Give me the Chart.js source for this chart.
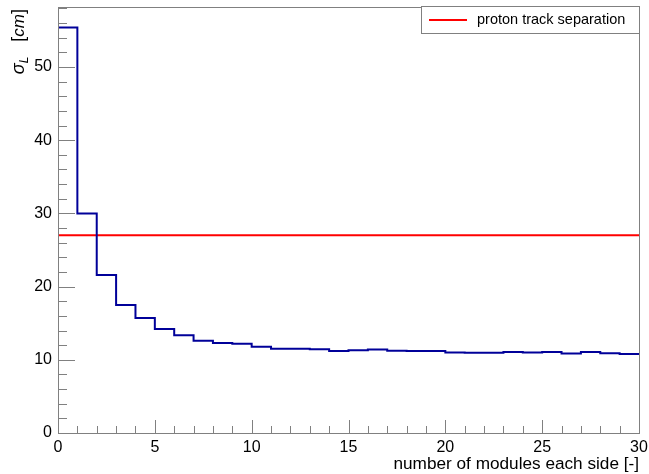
<!DOCTYPE html>
<html>
<head>
<meta charset="utf-8">
<script src="https://cdn.jsdelivr.net/npm/chart.js@4.4.1/dist/chart.umd.min.js"></script>
<style>
  html, body { margin: 0; padding: 0; background: #ffffff; }
  #wrap { width: 649px; height: 474px; position: relative; }
</style>
</head>
<body>
<div id="wrap"><canvas id="c" width="649" height="474"></canvas></div>
<script>
// ---- data ----
const binEdges = [0,1,2,3,4,5,6,7,8,9,10,11,12,13,14,15,16,17,18,19,20,21,22,23,24,25,26,27,28,29,30];
const sigmaL = [55.4, 30.0, 21.6, 17.5, 15.7, 14.2, 13.35, 12.6, 12.3, 12.2,
                11.8, 11.5, 11.5, 11.45, 11.2, 11.3, 11.4, 11.25, 11.2, 11.2,
                11.0, 10.95, 10.95, 11.05, 11.0, 11.05, 10.85, 11.05, 10.9, 10.8];
const separationLevel = 27.0;
const separationLabel = "proton track separation";
const xTicks = [0, 5, 10, 15, 20, 25, 30];
const yTicks = [0, 10, 20, 30, 40, 50];
const xTitle = "number of modules each side [-]";
const yMax = 58.2;

// histogram step points: each bin value held from its low edge to the next edge
const histPoints = binEdges.map((e, i) => ({ x: e, y: sigmaL[Math.min(i, sigmaL.length - 1)] }));
const sepPoints = [{ x: binEdges[0], y: separationLevel }, { x: binEdges[binEdges.length - 1], y: separationLevel }];

const FONT = "'Liberation Sans', Arial, Helvetica, sans-serif";

const rootStyle = {
  id: 'rootStyle',
  afterDatasetsDraw(chart) {
    const ctx = chart.ctx;
    const a = chart.chartArea;
    const xs = chart.scales.x, ys = chart.scales.y;
    ctx.save();
    // tick marks (inside the frame)
    ctx.strokeStyle = '#808080';
    ctx.lineWidth = 1;
    ctx.beginPath();
    for (let v = 0; v <= 30; v += 1) {
      const px = Math.round(xs.getPixelForValue(v)) + 0.5;
      const len = (v % 5 === 0) ? 13 : 7;
      ctx.moveTo(px, a.bottom);
      ctx.lineTo(px, a.bottom - len);
    }
    for (let v = 0; v <= yMax; v += 2) {
      const py = Math.round(ys.getPixelForValue(v)) + 0.5;
      const len = (v % 10 === 0) ? 17 : 9;
      ctx.moveTo(a.left, py);
      ctx.lineTo(a.left + len, py);
    }
    ctx.stroke();
    // frame
    ctx.strokeStyle = '#808080';
    ctx.strokeRect(Math.round(a.left) + 0.5, Math.round(a.top) + 0.5,
                   Math.round(a.right - a.left), Math.round(a.bottom - a.top));

    // legend box
    const lx0 = 421, ly0 = 6, lx1 = Math.round(a.right), ly1 = 33;
    ctx.fillStyle = '#ffffff';
    ctx.fillRect(lx0, ly0, lx1 - lx0, ly1 - ly0);
    ctx.strokeStyle = '#808080';
    ctx.strokeRect(lx0 + 0.5, ly0 + 0.5, lx1 - lx0, ly1 - ly0);
    const sep = chart.data.datasets[1];
    ctx.strokeStyle = sep.borderColor;
    ctx.lineWidth = 2;
    ctx.beginPath();
    ctx.moveTo(429, 20);
    ctx.lineTo(467, 20);
    ctx.stroke();
    ctx.fillStyle = '#000000';
    ctx.font = '14.5px ' + FONT;
    ctx.textBaseline = 'middle';
    ctx.textAlign = 'left';
    ctx.fillText(sep.label, 477, 20);

    // x title
    ctx.font = '17.2px ' + FONT;
    ctx.textAlign = 'right';
    ctx.textBaseline = 'alphabetic';
    ctx.fillText(xTitle, a.right, 469);

    // y title (rotated): sigma_L  [cm]
    ctx.translate(24, a.top + 2);
    ctx.rotate(-Math.PI / 2);
    const parts = [
      { t: '\u03C3', f: 'italic 18px ' + FONT, dy: 0 },
      { t: 'L', f: 'italic 12px ' + FONT, dy: 4 },
      { t: '   [', f: '18px ' + FONT, dy: 0 },
      { t: 'cm', f: 'italic 17px ' + FONT, dy: 0 },
      { t: ']', f: '18px ' + FONT, dy: 0 }
    ];
    let total = 0;
    parts.forEach(p => { ctx.font = p.f; p.w = ctx.measureText(p.t).width; total += p.w; });
    let cx = -total;
    ctx.textAlign = 'left';
    parts.forEach(p => { ctx.font = p.f; ctx.fillText(p.t, cx, p.dy); cx += p.w; });
    ctx.restore();
  }
};

new Chart(document.getElementById('c'), {
  type: 'line',
  data: {
    datasets: [
      {
        label: 'sigma_L',
        data: histPoints,
        stepped: 'before',
        borderColor: '#000099',
        borderWidth: 2,
        pointRadius: 0,
        fill: false
      },
      {
        label: separationLabel,
        data: sepPoints,
        borderColor: '#ff0000',
        borderWidth: 2,
        pointRadius: 0,
        fill: false
      }
    ]
  },
  options: {
    responsive: false,
    animation: false,
    layout: { padding: { top: 7, right: 10, left: 0, bottom: 0 } },
    plugins: { legend: { display: false }, tooltip: { enabled: false } },
    scales: {
      x: {
        type: 'linear',
        min: 0, max: 30,
        grid: { display: false, drawTicks: false },
        border: { display: true, color: '#808080', width: 1 },
        afterBuildTicks: s => { s.ticks = xTicks.map(v => ({ value: v })); },
        ticks: { color: '#000000', font: { family: FONT, size: 16 }, padding: 5, maxRotation: 0, autoSkip: false },
        afterFit: s => { s.height = 41; s.paddingLeft = 0; s.paddingRight = 0; }
      },
      y: {
        type: 'linear',
        min: 0, max: yMax,
        grid: { display: false, drawTicks: false },
        border: { display: true, color: '#808080', width: 1 },
        afterBuildTicks: s => { s.ticks = yTicks.map(v => ({ value: v })); },
        ticks: { color: '#000000', font: { family: FONT, size: 16 }, padding: 6, autoSkip: false },
        afterFit: s => { s.width = 58; s.paddingTop = 0; s.paddingBottom = 0; }
      }
    }
  },
  plugins: [rootStyle]
});
</script>
</body>
</html>
